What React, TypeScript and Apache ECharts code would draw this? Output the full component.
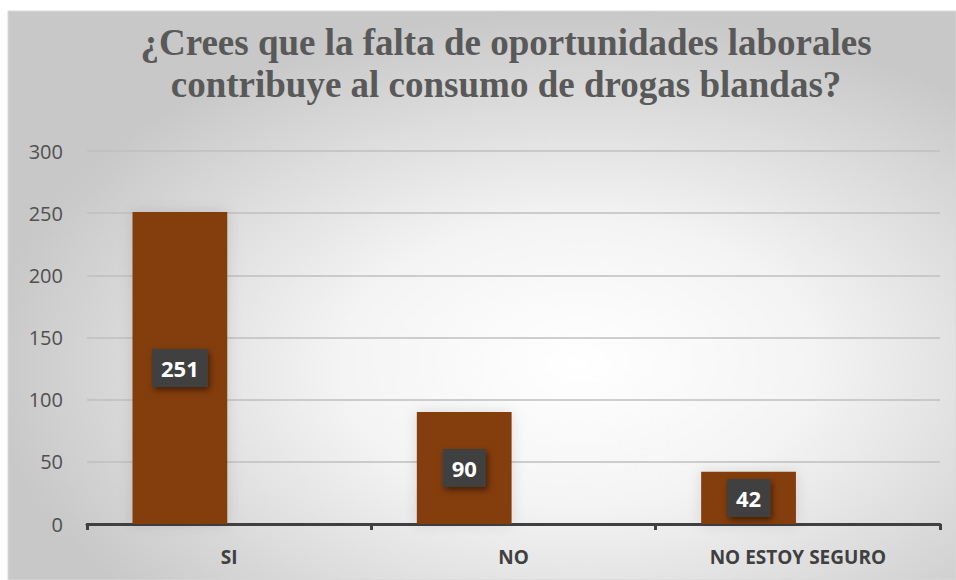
import React, { useEffect, useRef } from "react";
import * as echarts from "echarts";

const titleLines = ["¿Crees que la falta de oportunidades laborales", "contribuye al consumo de drogas blandas?"];
const categories = ["SI", "NO", "NO ESTOY SEGURO"];
const values = [251, 90, 42];
const yTicks = [0, 50, 100, 150, 200, 250, 300];

export default function App() {
  const ref = useRef<HTMLDivElement>(null);
  useEffect(() => {
    if (!ref.current) return;
    const chart = echarts.init(ref.current, null, { renderer: "svg" });
    chart.setOption({
      animation: false,
      backgroundColor: "#ffffff",
      graphic: [
        {
          type: "rect",
          z: -10,
          silent: true,
          shape: { x: 8, y: 11, width: 948, height: 569 },
          style: {
            fill: new echarts.graphic.RadialGradient(0.6, 0.62, 0.62, [
              { offset: 0, color: "#ffffff" },
              { offset: 0.4, color: "#f4f4f4" },
              { offset: 1, color: "#c8c8c8" },
            ]),
            stroke: "#d9d9d9",
            lineWidth: 1,
          },
        },
      ],
      title: {
        text: titleLines.join("\n"),
        left: 501,
        textAlign: "center",
        top: 16,
        textStyle: {
          fontFamily: "Liberation Serif",
          fontWeight: "bold",
          fontSize: 37,
          lineHeight: 42,
          color: "#595959",
        },
      },
      grid: { left: 87, right: 16, top: 151, bottom: 56, containLabel: false },
      xAxis: {
        type: "category",
        data: categories,
        axisLine: { lineStyle: { color: "#404040", width: 3 } },
        axisTick: { show: true, length: 6, lineStyle: { color: "#404040", width: 3 } },
        axisLabel: {
          color: "#404040",
          fontFamily: "Open Sans",
          fontWeight: "bold",
          fontSize: 19,
          margin: 23,
        },
      },
      yAxis: {
        type: "value",
        min: 0,
        max: 300,
        interval: 50,
        axisLine: { show: false },
        axisTick: { show: false },
        axisLabel: {
          color: "#505050",
          fontFamily: "Open Sans",
          fontSize: 20,
          margin: 24,
          formatter: (v: number) => (yTicks.includes(v) ? String(v) : ""),
        },
        splitLine: { lineStyle: { color: "#bfbfbf", width: 1.5 } },
      },
      series: [
        {
          type: "bar",
          data: values,
          barGap: "4%",
          barCategoryGap: "32%",
          itemStyle: {
            color: "#843c0c",
            shadowColor: "rgba(0,0,0,0.12)",
            shadowBlur: 14,
          },
          label: {
            show: true,
            position: "inside",
            color: "#ffffff",
            fontFamily: "Open Sans",
            fontWeight: "bold",
            fontSize: 22,
            backgroundColor: "#404040",
            padding: [9, 9, 7, 9],
            shadowColor: "rgba(0,0,0,0.5)",
            shadowBlur: 6,
            shadowOffsetX: 2,
            shadowOffsetY: 3,
          },
        },
        {
          type: "bar",
          data: categories.map(() => "-"),
          itemStyle: { color: "transparent" },
        },
      ],
    });
    return () => chart.dispose();
  }, []);
  return <div ref={ref} style={{ position: "absolute", left: 0, top: 0, width: 956, height: 580 }} />;
}
